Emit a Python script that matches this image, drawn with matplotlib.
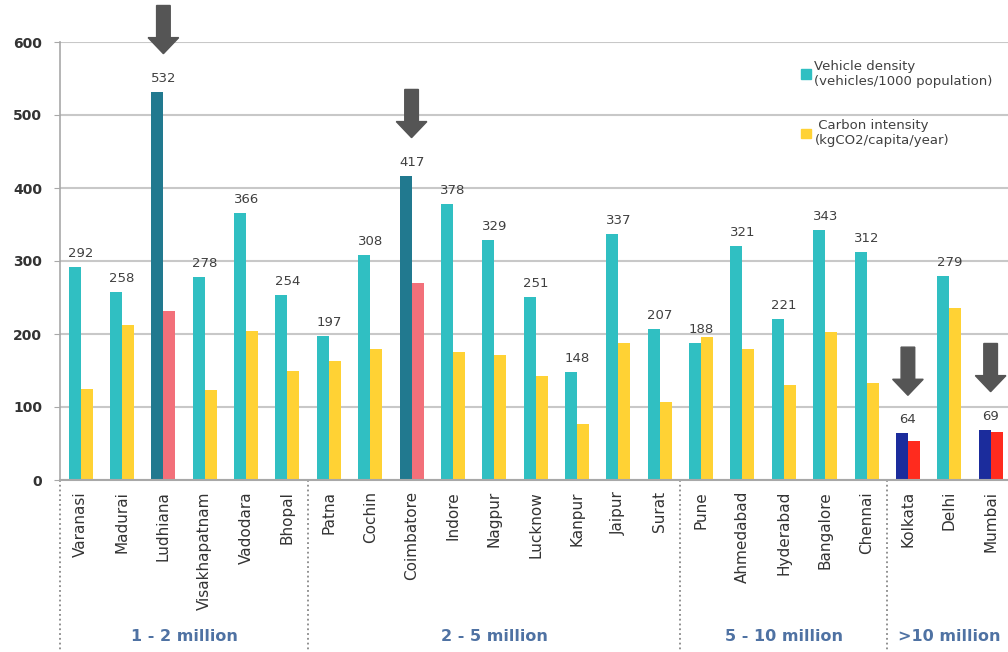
import matplotlib
matplotlib.use('Agg')
import matplotlib.pyplot as plt
import numpy as np
from matplotlib.patches import FancyArrow


cities = ['Varanasi', 'Madurai', 'Ludhiana', 'Visakhapatnam', 'Vadodara', 'Bhopal',
          'Patna', 'Cochin', 'Coimbatore', 'Indore', 'Nagpur', 'Lucknow', 'Kanpur', 'Jaipur', 'Surat',
          'Pune', 'Ahmedabad', 'Hyderabad', 'Bangalore', 'Chennai',
          'Kolkata', 'Delhi', 'Mumbai']
vehicle_density = [292, 258, 532, 278, 366, 254,
                   197, 308, 417, 378, 329, 251, 148, 337, 207,
                   188, 321, 221, 343, 312,
                   64, 279, 69]
carbon_intensity = [125, 212, 232, 123, 204, 150,
                    163, 180, 270, 176, 171, 143, 77, 187, 107,
                    196, 179, 130, 203, 133,
                    53, 235, 66]
group_names = ['1 - 2 million', '2 - 5 million', '5 - 10 million', '>10 million']
group_sizes = [6, 9, 5, 3]
highlight_mid = ['Ludhiana', 'Coimbatore']   # mid-size cities with high density
highlight_big = ['Kolkata', 'Mumbai']        # megacities with low density

x = np.arange(len(cities))
width = 0.29

teal_c, yellow_c = [], []
for c in cities:
    if c in highlight_mid:
        teal_c.append('#21798F'); yellow_c.append('#F2707A')
    elif c in highlight_big:
        teal_c.append('#1B2C9C'); yellow_c.append('#FF2B1E')
    else:
        teal_c.append('#30BFC2'); yellow_c.append('#FFD234')

fig = plt.figure(figsize=(10.08, 6.52), dpi=100)
ax = fig.add_axes([60 / 1008, 172 / 652, 948 / 1008, 438 / 652])

bars1 = ax.bar(x - width / 2, vehicle_density, width, color=teal_c,
               label='Vehicle density\n(vehicles/1000 population)')
bars2 = ax.bar(x + width / 2, carbon_intensity, width, color=yellow_c,
               label=' Carbon intensity\n(kgCO2/capita/year)')

# value labels above the density bars
for xi, v in zip(x, vehicle_density):
    ax.annotate('{}'.format(v), xy=(xi, v), xytext=(0, 5), textcoords='offset points',
                ha='center', va='bottom', fontsize=9.5, color='#404040')

# arrows pointing at the highlighted cities
for c in highlight_mid + highlight_big:
    i = cities.index(c)
    tip = vehicle_density[i] + 52
    arr = FancyArrow(i, tip + 66, 0, -66, width=0.33, head_width=0.74, head_length=22,
                     length_includes_head=True, color='#555555', clip_on=False, zorder=5)
    ax.add_patch(arr)

ax.set_xlim(-0.5, 22.42)
ax.set_ylim(0, 600)
ax.set_yticks(np.arange(0, 700, 100))
ax.yaxis.grid(True, color='#C8C8C8', linewidth=1.5)
ax.set_axisbelow(True)
for s in ['top', 'right']:
    ax.spines[s].set_visible(False)
ax.spines['left'].set_color('#A8A8A8')
ax.spines['bottom'].set_color('#A8A8A8')
ax.spines['left'].set_linewidth(1.2)
ax.spines['bottom'].set_linewidth(1.5)
ax.tick_params(axis='y', length=4, color='#A8A8A8', pad=9, labelsize=10, labelcolor='#333333')
for t in ax.get_yticklabels():
    t.set_fontweight('bold')
ax.set_xticks(x)
ax.set_xticklabels(cities, rotation=90, fontsize=11, color='#333333')
ax.tick_params(axis='x', length=0, pad=8)

# group separators and group names under the axis
trans = ax.get_xaxis_transform()
edges = np.concatenate([[0], np.cumsum(group_sizes)]) - 0.5
for e in edges[:-1]:
    ax.plot([e, e], [0, -0.395], transform=trans, clip_on=False,
            color='#888888', linestyle=':', linewidth=1.3)
for k, name in enumerate(group_names):
    mid = (edges[k] + edges[k + 1]) / 2
    ax.text(mid, -0.357, name, transform=trans, ha='center', va='center',
            fontsize=11.5, fontweight='bold', color='#4F72A3')

leg = ax.legend(loc='upper left', bbox_to_anchor=(0.775, 0.975), frameon=False,
                fontsize=9.5, handlelength=0.7, handleheight=0.7, handletextpad=0.3,
                labelspacing=2.4, borderpad=0)
leg.legend_handles[0].set_color('#30BFC2')
leg.legend_handles[1].set_color('#FFD234')
for t in leg.get_texts():
    t.set_color('#404040')

plt.savefig('out.png', dpi=100)
